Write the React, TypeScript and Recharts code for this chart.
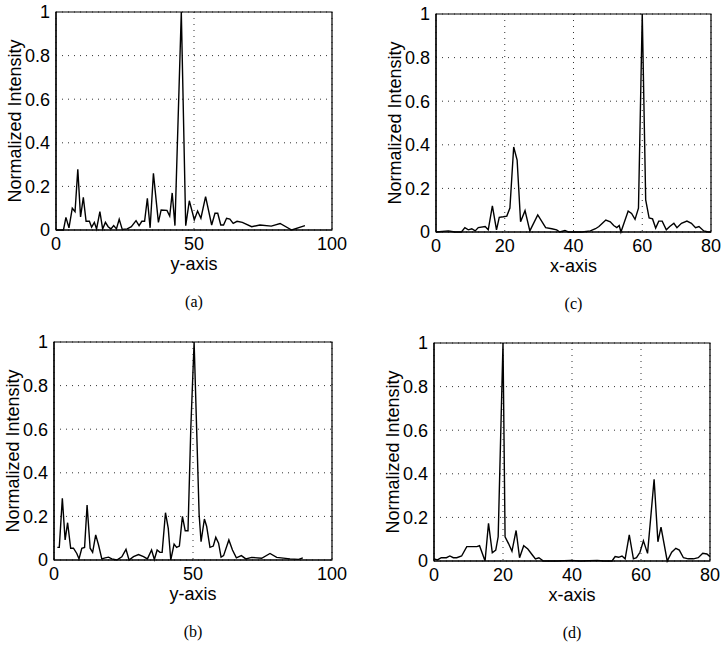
import React from 'react';
import { LineChart, Line, XAxis, YAxis, CartesianGrid, ReferenceArea } from 'recharts';

// Panel (a): intensity along y-axis
const aX = [0, 2.7, 3.6, 4.7, 5.9, 6.9, 7.9, 8.9, 9.9, 10.9, 12.1, 12.9, 13.9, 14.7, 15.9, 16.9, 17.9, 18.9, 19.9, 20.9, 21.9, 22.9, 24, 25.8, 27.3, 29, 30.1, 31.1, 32.1, 33.1, 34.1, 35.3, 37.1, 38.1, 40.2, 41.2, 42.1, 43.1, 45.4, 47, 48.3, 49.5, 50.1, 51.3, 52.5, 54.2, 56.4, 57.6, 58.6, 59.7, 60.7, 61.8, 63, 64.2, 65.6, 67.5, 70.9, 73.9, 78, 81.2, 85.4, 90.2];
const aY = [0, 0, 0.058, 0.01, 0.1, 0.084, 0.278, 0.06, 0.15, 0.04, 0.04, 0.013, 0.035, 0.005, 0.084, 0.005, 0.035, 0.015, 0.005, 0.02, 0.005, 0.049, 0.003, 0.005, 0.015, 0.043, 0.02, 0.04, 0.04, 0.145, 0.01, 0.26, 0.035, 0.092, 0.09, 0.064, 0.17, 0.02, 1.0, 0.02, 0.134, 0.077, 0.046, 0.087, 0.054, 0.153, 0.023, 0.077, 0.077, 0.023, 0.023, 0.054, 0.05, 0.03, 0.04, 0.035, 0.015, 0.023, 0.018, 0.03, 0, 0.02];

// Panel (b): intensity along y-axis
const bX = [1.2, 1.9, 3.0, 4.0, 4.9, 6.0, 7.0, 8.2, 9.0, 10.0, 11.0, 11.9, 13.0, 13.9, 15.0, 16.0, 17.2, 18.4, 19.6, 20.8, 22.6, 24.4, 25.9, 27, 28.6, 30.4, 32.2, 33.6, 35.1, 36.1, 37.1, 38.1, 38.9, 40.1, 41.1, 42, 43.2, 44.1, 45.1, 46.2, 47.2, 48.2, 49.2, 50.4, 52.2, 52.9, 54.1, 54.9, 56.1, 57.3, 58.2, 59.2, 60.1, 61, 62.9, 64.2, 65.6, 67.4, 69, 71.1, 74.7, 77.7, 80.1, 84.9, 88, 89.5];
const bY = [0.058, 0.058, 0.283, 0.092, 0.171, 0.054, 0.054, 0.03, 0.005, 0.054, 0.058, 0.252, 0.054, 0.035, 0.115, 0.07, 0.005, 0.01, 0.013, 0.005, 0, 0.015, 0.049, 0, 0.015, 0.025, 0.015, 0.005, 0.046, 0.002, 0.046, 0.035, 0.035, 0.217, 0.145, 0, 0.073, 0.058, 0.064, 0.2, 0.134, 0.134, 0.6, 1.0, 0.21, 0.084, 0.188, 0.155, 0.058, 0.064, 0.104, 0.077, 0.013, 0.02, 0.092, 0.046, 0.01, 0.02, 0.005, 0.012, 0.008, 0.03, 0.012, 0.005, 0.003, 0.01];

// Panel (c): intensity along x-axis
const cX = [0, 3.6, 5.5, 7.4, 8.4, 9.4, 10.4, 11.4, 12.3, 14.3, 15.2, 16.4, 17.6, 18.4, 19.6, 20.6, 21.5, 22.6, 23.6, 24.6, 25.9, 27.3, 29.6, 31.9, 33.7, 35.1, 36, 37.5, 38.5, 40, 42.5, 44.9, 46.4, 47.4, 48.4, 49.4, 50.7, 51.7, 52.6, 53.3, 53.8, 55.9, 56.9, 57.9, 58.9, 60, 61, 62, 63, 63.9, 64.8, 65.8, 67, 68, 69.2, 70.1, 71.4, 73, 74.3, 75.5, 76.5, 77.9, 79.2, 80];
const cY = [0, 0.005, 0, 0, 0.02, 0.01, 0.015, 0.005, 0.02, 0.025, 0.01, 0.12, 0.01, 0.067, 0.07, 0.073, 0.11, 0.39, 0.33, 0.047, 0.098, 0.005, 0.078, 0.02, 0.015, 0.01, 0, 0.007, 0, 0, 0, 0.005, 0.015, 0.025, 0.04, 0.055, 0.047, 0.03, 0.02, 0.03, 0, 0.096, 0.085, 0.058, 0.109, 1.0, 0.147, 0.064, 0.06, 0.018, 0.05, 0.05, 0.01, 0.025, 0.04, 0.02, 0.04, 0.05, 0.04, 0.02, 0.025, 0.005, 0, 0];

// Panel (d): intensity along x-axis
const dX = [0, 1.0, 2.1, 3.6, 4.6, 5.6, 6.6, 8.0, 9.5, 10.9, 12.4, 13.2, 14.8, 15.8, 16.9, 17.9, 18.6, 20.0, 20.6, 21.6, 22.6, 23.8, 24.8, 26, 27.2, 28.4, 29.4, 30.4, 31.7, 35.8, 39.6, 42.5, 47.3, 49.2, 51.6, 52.5, 53.5, 54.5, 55.4, 56.6, 57.8, 58.7, 59.7, 60.7, 61.9, 63.8, 64.9, 65.8, 67.6, 68.9, 70.1, 71.1, 72.3, 73.7, 75.2, 76.6, 77.9, 79.1, 80];
const dY = [0.01, 0.005, 0.015, 0.015, 0.023, 0.015, 0.015, 0.023, 0.066, 0.066, 0.066, 0.07, 0, 0.173, 0.038, 0.05, 0.111, 1.0, 0.111, 0.08, 0.045, 0.14, 0.015, 0.07, 0.055, 0.03, 0.01, 0.015, 0, 0, 0.003, 0, 0.003, 0, 0, 0.02, 0.017, 0.023, 0.01, 0.12, 0.01, 0.015, 0.04, 0.093, 0.035, 0.375, 0.088, 0.155, 0, 0.04, 0.058, 0.05, 0.015, 0.01, 0.01, 0.015, 0.035, 0.032, 0.02];

const yTicks = [0, 0.2, 0.4, 0.6, 0.8, 1];
const xTicks100 = [0, 50, 100];
const xTicks80 = [0, 20, 40, 60, 80];
const yTitle = 'Normalized Intensity';

const FONT = '"Liberation Sans", Arial, Helvetica, sans-serif';

type PanelProps = {
  plotLeft: number;
  plotTop: number;
  plotW: number;
  plotH: number;
  xs: number[];
  ys: number[];
  xMax: number;
  xTicks: number[];
  xTitle: string;
  caption: string;
};

function Panel(p: PanelProps) {
  const data = p.xs.map((x, i) => ({ x, y: p.ys[i] }));
  const yAxisW = 56;
  const xAxisH = 50;
  const mTop = 12;
  const mRight = 20;
  const width = yAxisW + p.plotW + mRight;
  const height = mTop + p.plotH + xAxisH;
  const tickStyle = { fontSize: 18, fill: '#000', fontFamily: FONT };
  return (
    <>
      <div style={{ position: 'absolute', left: p.plotLeft - yAxisW, top: p.plotTop - mTop }}>
        <LineChart
          width={width}
          height={height}
          data={data}
          margin={{ top: mTop, right: mRight, bottom: 0, left: 0 }}
        >
          <CartesianGrid stroke="#333" strokeDasharray="1 5" strokeWidth={1} />
          <XAxis
            dataKey="x"
            type="number"
            domain={[0, p.xMax]}
            ticks={p.xTicks}
            interval={0}
            height={xAxisH}
            tickLine={false}
            tickSize={0}
            tickMargin={7}
            axisLine={{ stroke: '#000', strokeWidth: 1.2 }}
            tick={tickStyle}
            label={{ value: p.xTitle, position: 'insideBottom', offset: 10, style: { fontSize: 18, fill: '#000', fontFamily: FONT } }}
          />
          <YAxis
            type="number"
            domain={[0, 1]}
            ticks={yTicks}
            interval={0}
            width={yAxisW}
            tickLine={false}
            tickSize={0}
            tickMargin={6}
            axisLine={{ stroke: '#000', strokeWidth: 1.2 }}
            tick={tickStyle}
            tickFormatter={(v: number) => String(v)}
            label={{ value: yTitle, angle: -90, position: 'insideLeft', offset: 15, style: { textAnchor: 'middle', fontSize: 18, fill: '#000', fontFamily: FONT } }}
          />
          <ReferenceArea x1={0} x2={p.xMax} y1={0} y2={1} fill="none" fillOpacity={0} stroke="#000" strokeWidth={1.2} ifOverflow="visible" />
          <Line type="linear" dataKey="y" stroke="#000" strokeWidth={1.4} dot={false} isAnimationActive={false} />
        </LineChart>
      </div>
      <div
        style={{
          position: 'absolute',
          left: p.plotLeft + p.plotW / 2 - 30,
          width: 60,
          top: p.plotTop + p.plotH + 63,
          textAlign: 'center',
          fontFamily: '"Liberation Serif", "Times New Roman", serif',
          fontSize: 16,
          color: '#000',
          lineHeight: '18px',
        }}
      >
        {p.caption}
      </div>
    </>
  );
}

export default function App() {
  return (
    <div style={{ position: 'absolute', left: 0, top: 0, width: 726, height: 645, background: '#fff', overflow: 'hidden' }}>
      <Panel plotLeft={56} plotTop={12} plotW={276} plotH={218} xs={aX} ys={aY} xMax={100} xTicks={xTicks100} xTitle="y-axis" caption="(a)" />
      <Panel plotLeft={436} plotTop={14} plotW={275} plotH={218} xs={cX} ys={cY} xMax={80} xTicks={xTicks80} xTitle="x-axis" caption="(c)" />
      <Panel plotLeft={54} plotTop={342} plotW={278} plotH={218} xs={bX} ys={bY} xMax={100} xTicks={xTicks100} xTitle="y-axis" caption="(b)" />
      <Panel plotLeft={434} plotTop={343} plotW={276} plotH={218} xs={dX} ys={dY} xMax={80} xTicks={xTicks80} xTitle="x-axis" caption="(d)" />
    </div>
  );
}
